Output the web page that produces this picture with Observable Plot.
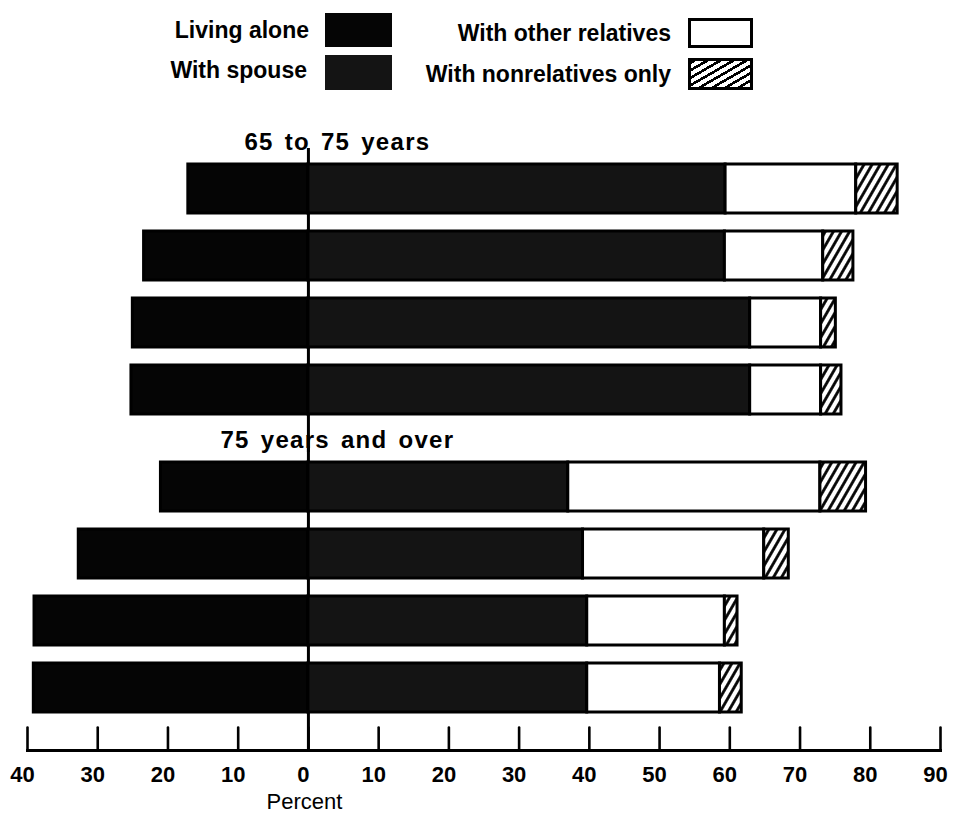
<!DOCTYPE html>
<html>
<head>
<meta charset="utf-8">
<script src="https://cdn.jsdelivr.net/npm/d3@7"></script>
<script src="https://cdn.jsdelivr.net/npm/@observablehq/plot@0.6"></script>
<style>
  body { margin: 0; background: #fff; font-family: "Liberation Sans", Arial, Helvetica, sans-serif; }
  #legend { position: relative; width: 960px; height: 100px; }
  .lt { position: absolute; font-weight: bold; font-size: 23px; line-height: 26px; text-align: right; color: #000; white-space: nowrap; }
  .lb { position: absolute; box-sizing: border-box; }
  #chart svg { display: block; }
</style>
</head>
<body>
<div id="legend"></div>
<div id="chart"></div>
<script>
// ---- data (percent of persons in each age group) ----
const groups = ["65 to 75 years", "75 years and over"];
const barIds = ["bar 1", "bar 2", "bar 3", "bar 4"];
const categories = ["Living alone", "With spouse", "With other relatives", "With nonrelatives only"];
const livingAlone          = [17.1, 23.4, 25.0, 25.2, 21.0, 32.7, 39.0, 39.1];
const withSpouse           = [59.4, 59.3, 62.9, 62.9, 37.0, 39.1, 39.7, 39.7];
const withOtherRelatives   = [18.6, 14.0, 10.1, 10.1, 35.9, 25.8, 19.6, 18.9];
const withNonrelativesOnly = [5.9, 4.3, 2.1, 2.9, 6.5, 3.5, 1.8, 3.1];
const xTicks = [-40, -30, -20, -10, 0, 10, 20, 30, 40, 50, 60, 70, 80, 90];

// ---- styles ----
const fills = ["#050505", "#141414", "#ffffff", "url(#hatch)"];
const legendCss = [
  "background:#050505",
  "background:#141414",
  "background:#fff;border:3px solid #000",
  "background:repeating-linear-gradient(150deg,#000 0 2.6px,#fff 2.6px 6.5px);border:3px solid #000"
];
const legendLayout = [
  {textRight: 309, textTop: 17, box: [325, 13, 67, 34]},
  {textRight: 307, textTop: 57, box: [325, 55, 67, 35]},
  {textRight: 671, textTop: 20, box: [688, 18, 65, 30]},
  {textRight: 671, textTop: 61, box: [688, 58, 65, 32]}
];

// ---- legend ----
const legend = document.getElementById("legend");
categories.forEach((c, i) => {
  const L = legendLayout[i];
  const t = document.createElement("div");
  t.className = "lt";
  t.style.cssText = `left:0;width:${L.textRight}px;top:${L.textTop}px`;
  t.textContent = c;
  legend.appendChild(t);
  const b = document.createElement("div");
  b.className = "lb";
  b.style.cssText = `left:${L.box[0]}px;top:${L.box[1]}px;width:${L.box[2]}px;height:${L.box[3]}px;` + legendCss[i];
  legend.appendChild(b);
});

// ---- long-format table ----
const series = [livingAlone.map(v => -v), withSpouse, withOtherRelatives, withNonrelativesOnly];
const rows = [];
for (let i = 0; i < livingAlone.length; i++) {
  const group = groups[Math.floor(i / barIds.length)];
  const bar = barIds[i % barIds.length];
  categories.forEach((category, k) => rows.push({group, bar, category, value: series[k][i]}));
}

const tickShape = {draw(context, l) { context.moveTo(0, 0); context.lineTo(0, -l); }};

const chart = Plot.plot({
  width: 960,
  height: 717,
  marginLeft: 27,
  marginRight: 20,
  marginTop: 64,
  marginBottom: 67,
  style: {fontFamily: '"Liberation Sans", Arial, Helvetica, sans-serif', fontSize: "22px", color: "#000", background: "#fff"},
  x: {domain: [-40, 90]},
  y: {domain: barIds, axis: null, paddingInner: 0.26866, paddingOuter: 0.2836, align: 0, round: false},
  fy: {domain: groups, axis: null, paddingInner: 0.0336, paddingOuter: 0, round: false},
  color: {domain: categories, range: fills},
  marks: [
    Plot.ruleX([0], {stroke: "#000", strokeWidth: 3, insetTop: -16, insetBottom: 0}),
    Plot.barX(rows, Plot.stackX({
      x: "value", y: "bar", fy: "group", z: "category",
      fill: "category", stroke: "#000", strokeWidth: 3
    })),
    Plot.text(groups, {
      fy: d => d, x: () => 0, text: d => d, frameAnchor: "top", lineAnchor: "middle",
      textAnchor: "middle", dy: -22, dx: 29, fontSize: 24, fontWeight: "bold", fill: "#000"
    }),
    Plot.frame({anchor: "bottom", facetAnchor: "bottom", stroke: "#000", strokeWidth: 3}),
    Plot.vector(xTicks, {
      fy: () => groups[1], x: d => d, frameAnchor: "bottom", anchor: "start",
      length: 23, rotate: 0, shape: tickShape, stroke: "#000", strokeWidth: 2.6
    }),
    Plot.axisX({
      ticks: xTicks, tickSize: 0, tickPadding: 16, tickFormat: d => String(Math.abs(d)),
      fontSize: 22, fontWeight: "bold", label: null, dx: -5, fill: "#000"
    }),
    Plot.text(["Percent"], {
      fy: () => groups[1], x: () => 0, text: d => d, frameAnchor: "bottom", lineAnchor: "middle",
      dy: 51, dx: -4, fontSize: 22, fill: "#000"
    })
  ]
});

// hatch pattern for "With nonrelatives only"
const defs = d3.select(chart).insert("defs", ":first-child");
const pat = defs.append("pattern")
  .attr("id", "hatch").attr("patternUnits", "userSpaceOnUse")
  .attr("width", 7).attr("height", 7).attr("patternTransform", "rotate(30)");
pat.append("rect").attr("width", 7).attr("height", 7).attr("fill", "#fff");
pat.append("path").attr("d", "M3.5,-1V8").attr("stroke", "#000").attr("stroke-width", 2.8);

// spaced lettering of the group headings
d3.select(chart).selectAll("text")
  .filter(function () { return groups.includes(this.textContent); })
  .style("letter-spacing", "1.3px").style("word-spacing", "3px");

document.getElementById("chart").appendChild(chart);
</script>
</body>
</html>
